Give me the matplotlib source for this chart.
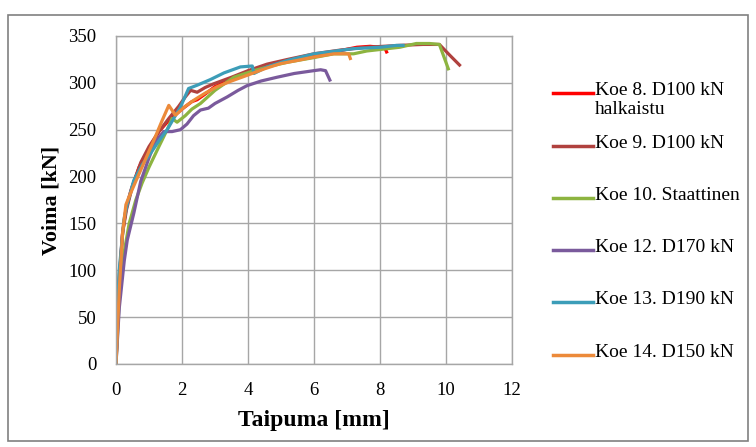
import matplotlib
matplotlib.use("Agg")
import matplotlib.pyplot as plt
from matplotlib.patches import Rectangle
from matplotlib.lines import Line2D

labels = ["Koe 8. D100 kN\nhalkaistu", "Koe 9. D100 kN", "Koe 10. Staattinen",
          "Koe 12. D170 kN", "Koe 13. D190 kN", "Koe 14. D150 kN"]
colors = ["#FF0000", "#B0413E", "#8DB440", "#7A5A9C", "#3C9DB8", "#EC8A3A"]

koe8_x = [0, 0.08, 0.2, 0.3, 0.45, 0.7, 1.0, 1.3, 1.6, 2.0, 2.3, 2.46, 2.7, 3.0, 3.5, 4.0, 4.6, 5.2, 6.0, 6.6, 7.3, 7.7, 8.0, 8.15, 8.2]
koe8_y = [0, 80, 140, 165, 185, 210, 230, 248, 260, 272, 280, 282, 288, 296, 304, 311, 318, 323, 330, 333, 338, 339, 338, 337, 333]

koe9_x = [0, 0.08, 0.2, 0.32, 0.5, 0.75, 1.0, 1.3, 1.6, 1.9, 2.1, 2.26, 2.46, 2.7, 2.96, 3.5, 4.0, 4.58, 5.2, 6.0, 6.8, 7.6, 8.6, 9.3, 9.8, 10.1, 10.41]
koe9_y = [0, 85, 140, 165, 190, 215, 232, 248, 262, 275, 285, 292, 290, 295, 299, 306, 313, 320, 325, 331, 335, 338, 340, 341, 341, 330, 319]

koe10_x = [0, 0.1, 0.25, 0.4, 0.6, 0.79, 1.0, 1.3, 1.55, 1.7, 1.85, 2.1, 2.3, 2.56, 3.0, 3.57, 4.18, 4.7, 5.2, 6.0, 6.6, 7.2, 7.6, 8.1, 8.6, 9.1, 9.5, 9.8, 10.07]
koe10_y = [0, 70, 120, 150, 175, 193, 210, 232, 250, 262, 258, 265, 272, 278, 292, 306, 313, 318, 322, 327, 331, 331, 334, 336, 338, 342, 342, 341, 315]

koe12_x = [0, 0.1, 0.25, 0.34, 0.54, 0.75, 1.0, 1.2, 1.45, 1.7, 1.95, 2.15, 2.35, 2.56, 2.8, 3.0, 3.37, 3.7, 3.97, 4.4, 4.88, 5.4, 5.99, 6.2, 6.35, 6.48]
koe12_y = [0, 60, 110, 132, 161, 195, 220, 238, 248, 248, 250, 256, 265, 271, 273, 278, 285, 292, 297, 302, 306, 310, 313, 314, 313, 303]

koe13_x = [0, 0.09, 0.24, 0.35, 0.54, 0.8, 1.05, 1.3, 1.55, 1.95, 2.2, 2.46, 2.86, 3.27, 3.77, 4.13, 4.18, 4.58, 5.2, 6.0, 7.2, 8.0, 8.5, 8.7]
koe13_y = [0, 97, 154, 172, 196, 213, 225, 238, 250, 274, 294, 297.5, 303.5, 310.6, 317, 318, 310, 317, 324, 331, 336.5, 338, 340, 340]

koe14_x = [0, 0.1, 0.2, 0.3, 0.39, 0.6, 0.85, 1.15, 1.4, 1.6, 1.8, 2.1, 2.36, 2.7, 3.07, 3.5, 3.97, 4.5, 4.98, 5.5, 6.0, 6.6, 7.05, 7.1]
koe14_y = [0, 80, 140, 170, 178, 195, 215, 239, 260, 276, 265.5, 275, 281.5, 289, 296, 302, 308, 315, 320.5, 324, 327.6, 331, 331, 326]

series_x = [koe8_x, koe9_x, koe10_x, koe12_x, koe13_x, koe14_x]
series_y = [koe8_y, koe9_y, koe10_y, koe12_y, koe13_y, koe14_y]

plt.rcParams['font.family'] = ['Liberation Serif', 'DejaVu Serif']

W, H = 756, 447
fig = plt.figure(figsize=(W / 100, H / 100), dpi=100)
ax = fig.add_axes([116 / W, 1 - 364 / H, (512 - 116) / W, (364 - 36) / H])

for xs, ys, c, lab in zip(series_x, series_y, colors, labels):
    ax.plot(xs, ys, color=c, lw=2.3, label=lab, solid_joinstyle='round')

ax.set_xlim(0, 12)
ax.set_ylim(0, 350)
ax.set_xticks(range(0, 13, 2))
ax.set_yticks(range(0, 351, 50))
ax.grid(True, color="#a6a6a6", lw=1.0)
ax.set_axisbelow(True)
for s in ax.spines.values():
    s.set_color("#a6a6a6")
    s.set_linewidth(1.0)
ax.tick_params(axis='y', length=0, labelsize=13.5, pad=14, colors="black")
ax.tick_params(axis='x', length=0, labelsize=13.5, pad=13, colors="black")
ax.set_xlabel("Taipuma [mm]", fontsize=17, fontweight="bold", labelpad=8)
ax.set_ylabel("Voima [kN]", fontsize=15.8, fontweight="bold", labelpad=5)

# Legend (drawn manually to mimic the spreadsheet layout)
legend_y = [93, 146, 198, 250, 302, 355]
for c, lab, yc in zip(colors, labels, legend_y):
    fy = 1 - yc / H
    fig.add_artist(Line2D([553 / W, 593 / W], [fy, fy], transform=fig.transFigure,
                          color=c, lw=2.5))
    fig.text(595 / W, 1 - (yc - 11) / H, lab, fontsize=14, va='top', ha='left',
             linespacing=1.15)

fig.patches.append(Rectangle((8 / W, 1 - 441 / H), 740 / W, 426 / H,
                             transform=fig.transFigure, fill=False,
                             edgecolor="#808080", lw=1.2))

fig.savefig("out.png", dpi=100)
